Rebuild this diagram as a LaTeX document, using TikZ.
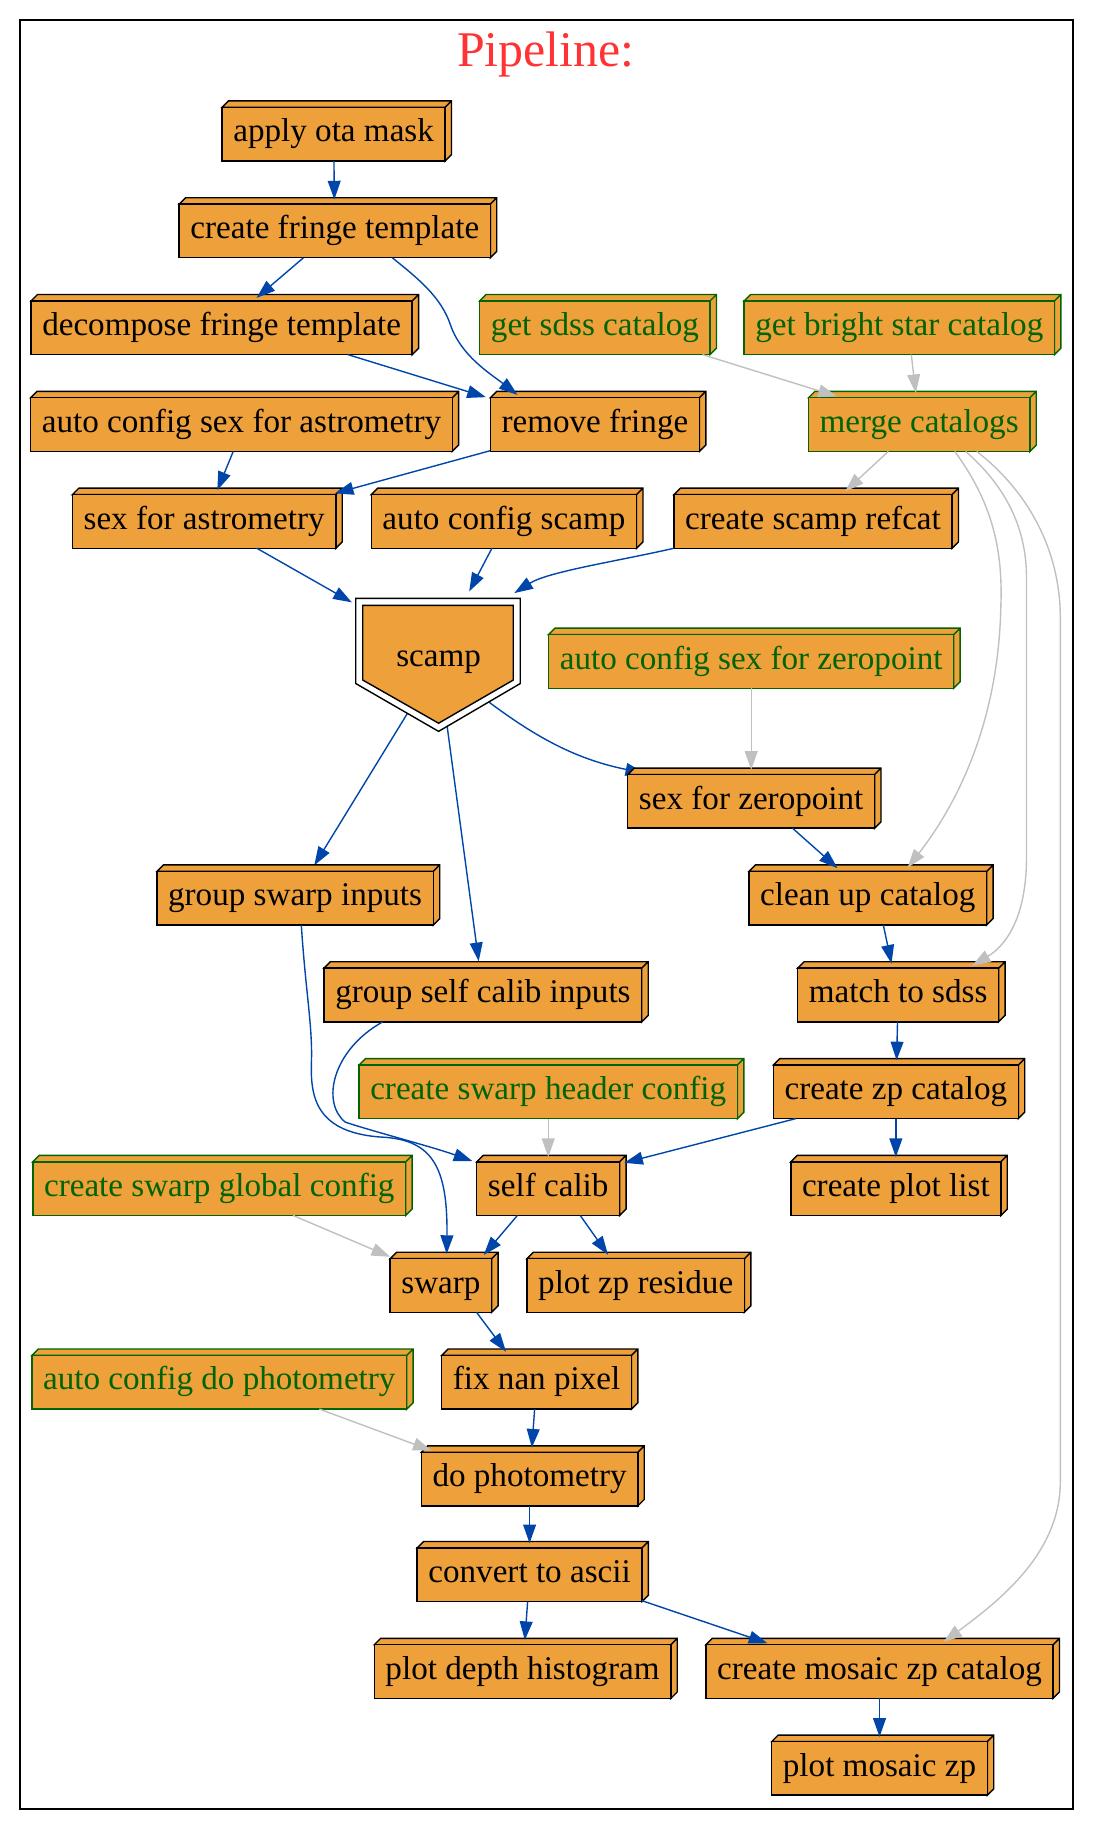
\documentclass[tikz,border=0pt]{standalone}
\usepackage{fontspec}
\setmainfont{Liberation Serif}
\usetikzlibrary{arrows.meta, calc, backgrounds}
\definecolor{boxfill}{RGB}{238,160,58}
\definecolor{cfggreen}{RGB}{0,100,0}
\definecolor{linkblue}{RGB}{0,70,170}
\definecolor{linkgray}{RGB}{192,192,192}
\definecolor{titlered}{RGB}{255,51,51}
\newcommand{\stagefont}{\fontsize{14.2}{17}\selectfont}

\begin{document}
\begin{tikzpicture}[x=0.5pt, y=-0.5pt, >={Triangle[length=8pt, width=5.5pt]},
  box/.style={draw=#1, fill=boxfill, line width=0.6pt, minimum height=23pt, inner xsep=4.8pt, inner ysep=0pt,
    outer sep=0pt, text height=9.7pt, text depth=3.1pt, font=\stagefont,
    append after command={\pgfextra{\begin{pgfinterruptpath}
      \filldraw[draw=#1, fill=boxfill, line width=0.6pt] (\tikzlastnode.north west) -- ++(2.75pt,2.75pt)
        -- ([shift={(2.75pt,2.75pt)}]\tikzlastnode.north east) -- ([shift={(2.75pt,2.75pt)}]\tikzlastnode.south east)
        -- (\tikzlastnode.south east) -- (\tikzlastnode.north east) -- cycle
        (\tikzlastnode.north east) -- ++(2.75pt,2.75pt);
    \end{pgfinterruptpath}}}},
  box/.default=black,
  task/.style={box=black},
  cfg/.style={box=cfggreen, text=cfggreen},
  link/.style={->, draw=linkblue, line width=0.6pt, shorten >=2pt},
  cfglink/.style={->, draw=linkgray, line width=0.6pt, shorten >=2pt}]
  \useasboundingbox (0,0) rectangle (937,1568);
  \draw[line width=0.7pt] (17,17) rectangle (920,1551);
  \node[font=\fontsize{21.4}{25}\selectfont, text=titlered, anchor=base] (title) at (468,57) {Pipeline:};

  \node[task] (aom) at (286,115) {apply ota mask};
  \node[task] (cft) at (287,198) {create fringe template};
  \node[task] (dft) at (190,281) {decompose fringe template};
  \node[cfg] (gsc) at (510,281) {get sdss catalog};
  \node[cfg] (gbsc) at (771,281) {get bright star catalog};
  \node[task] (acsa) at (207,364) {auto config sex for astrometry};
  \node[task] (rf) at (510,364) {remove fringe};
  \node[cfg] (mc) at (788,364) {merge catalogs};
  \node[task] (sfa) at (175,447) {sex for astrometry};
  \node[task] (acs) at (432,447) {auto config scamp};
  \node[task] (csr) at (697,447) {create scamp refcat};
  \filldraw[line width=0.6pt, fill=white] (305,513) -- (446,513) -- (446,586) -- (376,627) -- (305,586) -- cycle;
  \filldraw[line width=0.6pt, fill=boxfill] (311,519) -- (440,519) -- (440,583) -- (376,620) -- (311,583) -- cycle;
  \node[font=\stagefont, minimum width=70.5pt, minimum height=57pt, inner sep=0pt] (scamp) at (376,568) {scamp};
  \node[cfg] (acsz) at (644,567) {auto config sex for zeropoint};
  \node[task] (sfz) at (644,687) {sex for zeropoint};
  \node[task] (gsi) at (253,770) {group swarp inputs};
  \node[task] (cuc) at (744,770) {clean up catalog};
  \node[task] (gsci) at (414,853) {group self calib inputs};
  \node[task] (mts) at (770,853) {match to sdss};
  \node[cfg] (cshc) at (470,936) {create swarp header config};
  \node[task] (czc) at (768,936) {create zp catalog};
  \node[cfg] (csgc) at (188,1019) {create swarp global config};
  \node[task] (sc) at (470,1019) {self calib};
  \node[task] (cpl) at (768,1019) {create plot list};
  \node[task] (swp) at (378,1102) {swarp};
  \node[task] (pzr) at (545,1102) {plot zp residue};
  \node[cfg] (acdp) at (188,1185) {auto config do photometry};
  \node[task] (fnp) at (460,1185) {fix nan pixel};
  \node[task] (dp) at (454,1268) {do photometry};
  \node[task] (cta) at (454,1350) {convert to ascii};
  \node[task] (pdh) at (448,1433) {plot depth histogram};
  \node[task] (cmzc) at (754,1433) {create mosaic zp catalog};
  \node[task] (pmz) at (754,1516) {plot mosaic zp};

  \draw[link] (aom) -- (cft);
  \draw[link] (cft) -- (dft);
  \draw[link] (cft.-25) .. controls (360,240) and (378,255) .. (386,278) .. controls (395,305) and (420,320) .. (rf.160);
  \draw[link] (dft.-12) -- (rf.166);
  \draw[link] (acsa.253) -- (sfa.67);
  \draw[link] (rf.194) -- (sfa.12);
  \draw[link] (sfa.-27) -- (scamp.145);
  \draw[link] (acs.246) -- (scamp.67);
  \draw[link] (csr.south west) .. controls (530,481) and (470,490) .. (scamp.43);
  \begin{scope}[on background layer]
    \draw[link, shorten >=3pt] (scamp.center) -- (gsi.60);
    \draw[link, shorten >=3pt] (scamp.center) -- (gsci.97);
    \draw[link, shorten >=3pt] (scamp.center) .. controls (440,620) and (480,648) .. (sfz.165);
  \end{scope}
  \draw[cfglink] (gsc.-14) -- (mc.161);
  \draw[cfglink] (gbsc.-66) -- (mc.96);
  \draw[cfglink] (mc.221) -- (csr.43);
  \draw[cfglink] (mc.-37) .. controls (850,430) and (860,470) .. (858,520) .. controls (856,620) and (820,690) .. (cuc.36);
  \draw[cfglink] (mc.-30) .. controls (860,415) and (880,450) .. (880,495) -- (880,735) .. controls (880,790) and (860,812) .. (mts.21);
  \draw[cfglink] (mc.-25) .. controls (880,420) and (909,470) .. (909,530) -- (909,1270) .. controls (909,1330) and (860,1370) .. (cmzc.24);
  \draw[cfglink] (acsz) -- (sfz);
  \draw[link] (sfz.-33) -- (cuc.135);
  \draw[link] (cuc.-60) -- (mts.102);
  \draw[link] (mts) -- (czc);
  \draw[link] (czc.195) -- (sc.19);
  \draw[link] (czc) -- (cpl);
  \draw[link] (gsi.-77) .. controls (262,850) and (268,880) .. (267,910) .. controls (266,940) and (270,972) .. (330,975) .. controls (370,978) and (384,1000) .. (swp.78);
  \draw[link] (gsci.195) .. controls (285,900) and (275,945) .. (296,962) .. controls (320,970) and (370,983) .. (sc.160);
  \draw[cfglink] (cshc) -- (sc);
  \draw[cfglink] (csgc.-20) -- (swp.150);
  \draw[link] (sc.221) -- (swp.34);
  \draw[link] (sc.-40) -- (pzr.133);
  \draw[link] (swp.-37) -- (fnp.136);
  \draw[cfglink] (acdp.-15) -- (dp.164);
  \draw[link] (fnp) -- (dp);
  \draw[link] (dp) -- (cta);
  \draw[link] (cta) -- (pdh);
  \draw[link] (cta.-13) -- (cmzc.166);
  \draw[link] (cmzc) -- (pmz);
\end{tikzpicture}
\end{document}
